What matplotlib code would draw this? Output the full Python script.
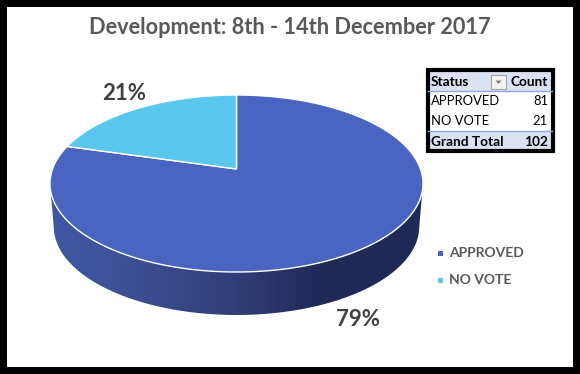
import numpy as np
import matplotlib
matplotlib.use("Agg")
import matplotlib.pyplot as plt
from matplotlib.transforms import Transform, Affine2D
from matplotlib.patches import Rectangle, Polygon
from matplotlib.path import Path
from matplotlib.colors import LinearSegmentedColormap

plt.rcParams['font.family'] = ['Lato', 'DejaVu Sans']

title = "Development: 8th - 14th December 2017"
categories = ["APPROVED", "NO VOTE"]
counts = [81, 21]
pct_labels = ["79%", "21%"]
colors = ["#4a64c2", "#5ac7ef"]
table_header = ["Status", "Count"]
table_total = ["Grand Total", "102"]

W, H = 580, 374
CX, CY, RX, RY = 236.5, 183.5, 186.5, 88.5
TILT = 0.164


def warp_xy(xy):
    # projective map of the unit disc onto itself: perspective view of the pie
    x, y = xy[:, 0], xy[:, 1]
    d = 1 + TILT * y
    return np.column_stack([x * np.sqrt(1 - TILT ** 2) / d, (y + TILT) / d])


class Warp(Transform):
    input_dims = output_dims = 2
    has_inverse = False

    def transform_non_affine(self, values):
        return warp_xy(np.asarray(values))

    def transform_path_non_affine(self, path):
        # flatten the curves first so that the warp follows the true arc
        big = path.transformed(Affine2D().scale(2000))
        poly = big.to_polygons(closed_only=True)[0] / 2000
        return Path(warp_xy(poly), closed=True)


fig = plt.figure(figsize=(W / 100, H / 100), dpi=100, facecolor="white")
ax = fig.add_axes([0, 0, 1, 1])
wedges, _ = ax.pie(counts, colors=colors, startangle=90, counterclock=False,
                   wedgeprops=dict(edgecolor="white", linewidth=1.0))
ax.set_aspect("auto")
warp = Warp()
for w in wedges:
    w.set_transform(warp + ax.transData)
    w.set_zorder(3)
    w.set_clip_on(False)

# side wall with horizontal gradient
t = np.linspace(np.pi, 2 * np.pi, 200)
top = np.column_stack([np.cos(t), np.sin(t)])
bot = top.copy()
bot[:, 0] *= 0.98
bot[:, 1] -= 43 / RY
wall = np.vstack([bot, top[::-1]])
cmap = LinearSegmentedColormap.from_list(
    "wall", [(0, "#3f56a2"), (0.18, "#3d5299"), (0.5, "#303e78"),
             (0.72, "#1f2a57"), (1, "#1f2a57")])
grad = np.linspace(0, 1, 256).reshape(1, -1)
im = ax.imshow(grad, cmap=cmap, aspect="auto", zorder=2,
               extent=(-1.02, 1.02, -2, 0.2))
ax.set_xlim(-CX / RX, (W - CX) / RX)
ax.set_ylim((CY - H) / RY, CY / RY)
im.set_clip_path(Path(wall), ax.transData)
ax.axis("off")

# overlay in pixel coordinates
ov = fig.add_axes([0, 0, 1, 1], facecolor="none")
ov.set_xlim(0, W)
ov.set_ylim(H, 0)
ov.axis("off")

for xy, w_, h_ in [((0, 0), W, 7), ((0, 367), W, 7), ((0, 0), 7, H), ((573, 0), 7, H)]:
    ov.add_patch(Rectangle(xy, w_, h_, fc="black", ec="none"))

ov.text(290, 27, title, ha="center", va="center", fontsize=15.7,
        fontweight="bold", color="#595959")
ov.text(124, 93, pct_labels[1], ha="center", va="center", fontsize=16,
        fontweight="bold", color="#404040")
ov.text(358, 319, pct_labels[0], ha="center", va="center", fontsize=16,
        fontweight="bold", color="#404040")

# legend
for yy, c, name in zip([253, 280.5], colors, categories):
    ov.add_patch(Rectangle((438, yy - 2.5), 5, 5, fc=c, ec="none"))
    ov.text(449, yy, name, ha="left", va="center", fontsize=10,
            fontweight="bold", color="#595959")

# pivot table
ov.add_patch(Rectangle((426, 68), 128, 84, fc="white", ec="none"))
for y0, h_ in [(71, 20), (131, 18)]:
    ov.add_patch(Rectangle((428, y0), 124, h_, fc="#d9e1f2", ec="none"))
for yy in (91, 130.5):
    ov.plot([428, 552], [yy, yy], color="#8ea9db", lw=1)
ov.add_patch(Rectangle((427.5, 69.5), 125, 81, fc="none", ec="black", lw=3))
ov.add_patch(Rectangle((491, 75), 15, 14, fc="#f2f2f2", ec="#a6a6a6", lw=0.8))
ov.add_patch(Polygon([(495.5, 80.5), (501.5, 80.5), (498.5, 84)], fc="#7f7f7f", ec="none"))

ov.text(431, 82, table_header[0], fontsize=9.8, fontweight="bold", va="center", color="black")
ov.text(548, 82, table_header[1], fontsize=9.8, fontweight="bold", va="center", ha="right", color="black")
for yy, name, n in zip([101, 121], categories, counts):
    ov.text(431, yy, name, fontsize=9.4, va="center", color="black")
    ov.text(548, yy, str(n), fontsize=9.4, va="center", ha="right", color="black")
ov.text(431, 142, table_total[0], fontsize=9.8, fontweight="bold", va="center", color="black")
ov.text(548, 142, table_total[1], fontsize=9.8, fontweight="bold", va="center", ha="right", color="black")

fig.savefig("out.png", dpi=100)
